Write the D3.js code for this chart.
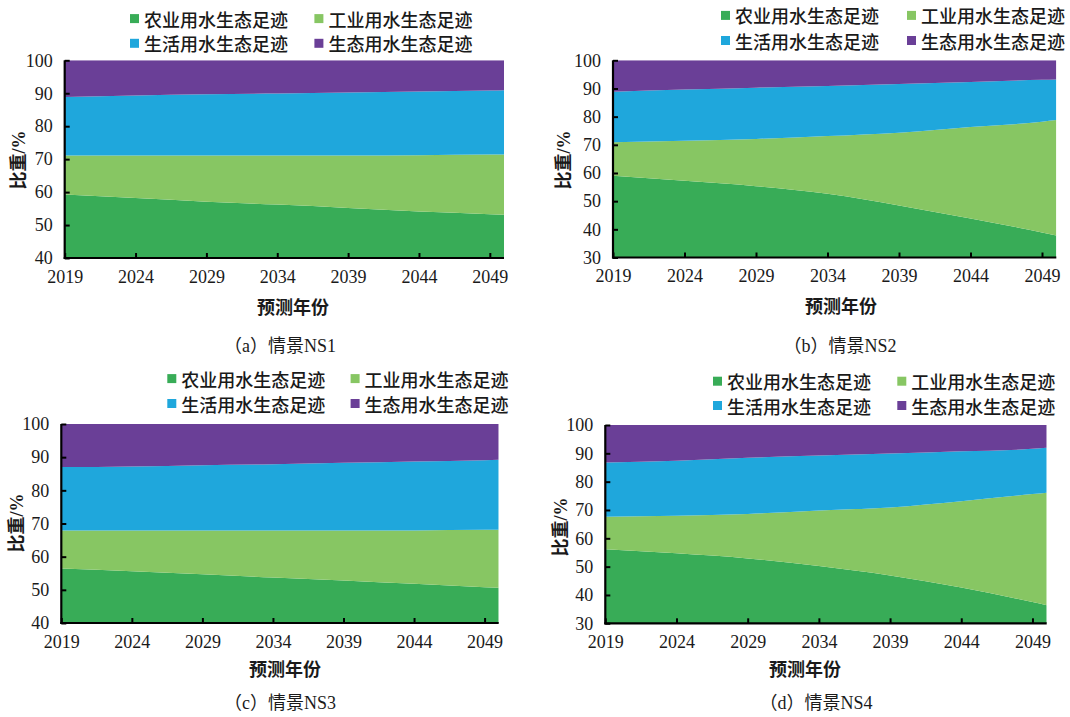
<!DOCTYPE html>
<html>
<head>
<meta charset="utf-8">
<script src="https://cdn.jsdelivr.net/npm/d3@7/dist/d3.min.js"></script>
<style>
  html, body { margin: 0; padding: 0; background: #ffffff; }
  svg { display: block; }
</style>
</head>
<body>
<svg id="chart" width="1070" height="717"></svg>
<script>
// ---------------- DATA ----------------
const years = [2019, 2024, 2029, 2034, 2039, 2044, 2049, 2050];
const tickYears = [2019, 2024, 2029, 2034, 2039, 2044, 2049];
const seriesNames = ["农业用水生态足迹", "工业用水生态足迹", "生活用水生态足迹", "生态用水生态足迹"];
const seriesKeys = ["agri", "ind", "dom", "eco"];
const captions = ["（a）情景NS1", "（b）情景NS2", "（c）情景NS3", "（d）情景NS4"];
const xTitle = "预测年份";
const yTitle = "比重/%";

// NS1 shares (%)
const ns1Agri = [59.3, 58.2, 57.1, 56.2, 55.2, 54.1, 53.3, 53.1];
const ns1Ind  = [11.8, 12.9, 14.0, 14.9, 15.9, 17.1, 18.1, 18.3];
const ns1Dom  = [17.8, 18.2, 18.6, 18.8, 19.1, 19.3, 19.4, 19.5];
const ns1Eco  = [11.1, 10.7, 10.3, 10.1, 9.8, 9.5, 9.2, 9.1];
// NS2
const ns2Agri = [59.0, 57.2, 55.3, 52.6, 48.5, 43.8, 38.9, 37.8];
const ns2Ind  = [11.9, 14.2, 16.8, 20.5, 25.8, 32.5, 39.3, 41.0];
const ns2Dom  = [17.9, 18.2, 18.2, 17.8, 17.3, 16.0, 14.9, 14.4];
const ns2Eco  = [11.2, 10.4, 9.7, 9.1, 8.4, 7.7, 6.9, 6.8];
// NS3
const ns3Agri = [56.4, 55.6, 54.7, 53.7, 52.8, 51.8, 50.8, 50.6];
const ns3Ind  = [11.5, 12.3, 13.2, 14.2, 15.1, 16.1, 17.3, 17.5];
const ns3Dom  = [19.1, 19.3, 19.7, 20.0, 20.4, 20.8, 21.0, 21.1];
const ns3Eco  = [13.0, 12.8, 12.4, 12.1, 11.7, 11.3, 10.9, 10.8];
// NS4
const ns4Agri = [56.1, 54.7, 52.9, 50.2, 46.9, 42.6, 37.5, 36.4];
const ns4Ind  = [11.5, 13.3, 15.7, 19.6, 24.0, 30.5, 38.1, 39.7];
const ns4Dom  = [19.2, 19.4, 19.8, 19.4, 19.0, 17.6, 16.0, 15.9];
const ns4Eco  = [13.2, 12.6, 11.6, 10.8, 10.1, 9.3, 8.4, 8.0];

const yTicksA = [40, 50, 60, 70, 80, 90, 100];
const yTicksB = [30, 40, 50, 60, 70, 80, 90, 100];

// ---------------- STYLE / LAYOUT ----------------
const colors = ["#38ac57", "#87c663", "#1fa7dc", "#6a3f97"];
const numFont = "'Liberation Serif', 'Times New Roman', serif";
const cjkFont = "'Noto Sans CJK SC', 'Noto Sans', sans-serif";
const capFont = "'Liberation Serif', 'Noto Sans CJK SC', serif";

const panels = [
  { data: [ns1Agri, ns1Ind, ns1Dom, ns1Eco], yMin: 40, yTicks: yTicksA,
    left: 64.7, right: 504, top: 60.3, bottom: 258,
    legX: [130, 314.4], legY: [18.6, 43.3], xTitle: [293, 306], cap: [280, 346], yTitle: [18.5, 160] },
  { data: [ns2Agri, ns2Ind, ns2Dom, ns2Eco], yMin: 30, yTicks: yTicksB,
    left: 613, right: 1056.3, top: 60.3, bottom: 257.5,
    legX: [721, 907], legY: [15.4, 40.5], xTitle: [841, 305], cap: [840, 346], yTitle: [564, 160] },
  { data: [ns3Agri, ns3Ind, ns3Dom, ns3Eco], yMin: 40, yTicks: yTicksA,
    left: 61.3, right: 498.7, top: 424, bottom: 623,
    legX: [167.3, 350.6], legY: [378.6, 403.5], xTitle: [285, 668], cap: [280, 703], yTitle: [17, 523] },
  { data: [ns4Agri, ns4Ind, ns4Dom, ns4Eco], yMin: 30, yTicks: yTicksB,
    left: 605.3, right: 1046.7, top: 425, bottom: 623.3,
    legX: [713, 897.3], legY: [381.2, 405.5], xTitle: [805, 668], cap: [816, 703], yTitle: [560.5, 527] }
];

const svg = d3.select("#chart");
const textColor = "#1a1a1a";

panels.forEach((p, pi) => {
  const g = svg.append("g");

  const rows = years.map((yr, i) => {
    const r = { year: yr };
    seriesKeys.forEach((k, si) => { r[k] = p.data[si][i]; });
    return r;
  });
  const stacked = d3.stack().keys(seriesKeys)(rows);

  const x = d3.scaleLinear().domain([2019, 2050]).range([p.left, p.right]);
  const y = d3.scaleLinear().domain([p.yMin, 100]).range([p.bottom, p.top]);

  const clipId = "clip" + pi;
  g.append("clipPath").attr("id", clipId)
    .append("rect")
    .attr("x", p.left).attr("y", p.top)
    .attr("width", p.right - p.left).attr("height", p.bottom - p.top);

  const area = d3.area()
    .curve(d3.curveMonotoneX)
    .x(d => x(d.data.year))
    .y0(d => y(d[0]))
    .y1(d => y(Math.min(d[1], 100)));

  g.append("g").attr("clip-path", `url(#${clipId})`)
    .selectAll("path")
    .data(stacked)
    .join("path")
    .attr("d", area)
    .attr("fill", (d, i) => colors[i]);

  // X axis
  const xAxis = d3.axisBottom(x)
    .tickValues(tickYears)
    .tickFormat(d3.format("d"))
    .tickSizeInner(-5)
    .tickSizeOuter(0)
    .tickPadding(14);
  const xg = g.append("g")
    .attr("transform", `translate(0,${p.bottom})`)
    .call(xAxis);
  xg.select(".domain").attr("stroke", "#000").attr("stroke-width", 2.2)
    .attr("d", `M${p.left - 1},0H${p.right}`);
  xg.selectAll(".tick line").attr("stroke", "#000").attr("stroke-width", 2);
  xg.selectAll(".tick text")
    .attr("font-family", numFont).attr("font-size", 18)
    .attr("fill", textColor)
    .attr("dy", "0.6em");

  // Y axis
  const yAxis = d3.axisLeft(y)
    .tickValues(p.yTicks)
    .tickFormat(d3.format("d"))
    .tickSizeInner(-5)
    .tickSizeOuter(0)
    .tickPadding(12);
  const yg = g.append("g")
    .attr("transform", `translate(${p.left},0)`)
    .call(yAxis);
  yg.select(".domain").attr("stroke", "#000").attr("stroke-width", 2.2)
    .attr("d", `M0,${p.top}V${p.bottom + 1}`);
  yg.selectAll(".tick line").attr("stroke", "#000").attr("stroke-width", 2);
  yg.selectAll(".tick text")
    .attr("font-family", numFont).attr("font-size", 18)
    .attr("fill", textColor);

  // Axis titles
  g.append("text")
    .attr("x", p.xTitle[0]).attr("y", p.xTitle[1])
    .attr("text-anchor", "middle").attr("dominant-baseline", "central")
    .attr("font-family", cjkFont).attr("font-size", 18).attr("font-weight", 700)
    .attr("fill", textColor)
    .text(xTitle);

  g.append("text")
    .attr("transform", `translate(${p.yTitle[0]},${p.yTitle[1]}) rotate(-90)`)
    .attr("text-anchor", "middle").attr("dominant-baseline", "central")
    .attr("font-family", capFont).attr("font-size", 18).attr("font-weight", 700)
    .attr("fill", textColor)
    .text(yTitle);

  // Caption
  g.append("text")
    .attr("x", p.cap[0]).attr("y", p.cap[1])
    .attr("text-anchor", "middle").attr("dominant-baseline", "central")
    .attr("font-family", capFont).attr("font-size", 18)
    .attr("fill", textColor)
    .text(captions[pi]);

  // Legend (2 x 2)
  seriesNames.forEach((name, si) => {
    const col = si % 2, row = Math.floor(si / 2);
    const lx = p.legX[col], ly = p.legY[row];
    g.append("rect")
      .attr("x", lx).attr("y", ly - 4.5)
      .attr("width", 9).attr("height", 9)
      .attr("fill", colors[si]);
    g.append("text")
      .attr("x", lx + 14).attr("y", ly)
      .attr("dominant-baseline", "central")
      .attr("font-family", cjkFont).attr("font-size", 18).attr("font-weight", 500)
      .attr("fill", textColor)
      .text(name);
  });
});
</script>
</body>
</html>
